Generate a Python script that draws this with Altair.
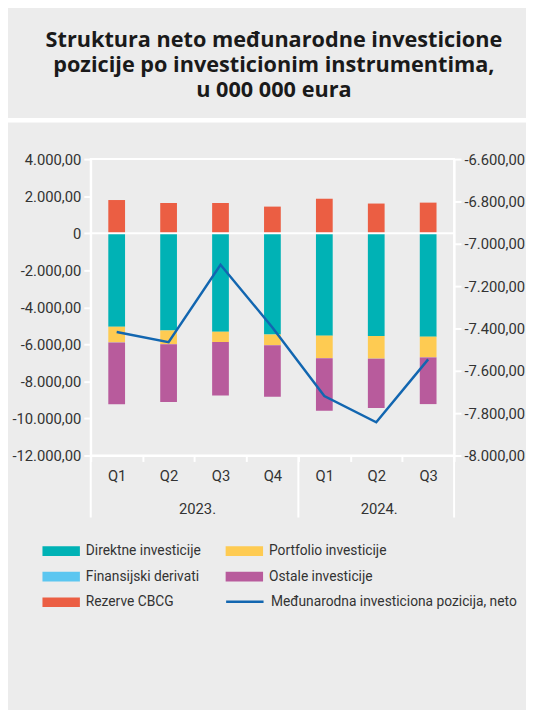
import altair as alt
import pandas as pd

periods = ["2023 Q1", "2023 Q2", "2023 Q3", "2023 Q4", "2024 Q1", "2024 Q2", "2024 Q3"]
direktne = [-5050, -5250, -5320, -5470, -5530, -5550, -5585]
portfolio = [-840, -740, -550, -570, -1210, -1220, -1115]
derivati = [-8, -6, -6, -5, -5, -6, -5]
ostale = [-3330, -3120, -2890, -2785, -2835, -2660, -2520]
rezerve = [1790, 1630, 1630, 1435, 1860, 1600, 1650]
neto = [-7417, -7465, -7099, -7395, -7719, -7843, -7546]

bar_names = [
    "Direktne investicije",
    "Portfolio investicije",
    "Finansijski derivati",
    "Ostale investicije",
    "Rezerve CBCG",
]
line_name = "Međunarodna investiciona pozicija, neto"
bar_colors = ["#00b2b5", "#fecb52", "#5bc6f0", "#b85b9c", "#eb5e43"]
line_color = "#1266b0"
# legend is filled column by column (3 rows): order entries so rows read as in the reference
legend_order = [0, 2, 4, 1, 3]
legend_names = [bar_names[i] for i in legend_order]
legend_colors = [bar_colors[i] for i in legend_order]

title_lines = ["Struktura neto međunarodne investicione",
               "pozicije po investicionim instrumentima,",
               "u 000 000 eura"]

left_ticks = list(range(-12000, 4001, 2000))
right_ticks = list(range(-8000, -6599, 200))

rows = []
for i, (name, vals) in enumerate(zip(bar_names, [direktne, portfolio, derivati, ostale, rezerve])):
    for p, v in zip(periods, vals):
        rows.append({"period": p, "series": name, "value": v, "ord": i})
df = pd.DataFrame(rows)
df_line = pd.DataFrame({"period": periods, "neto": neto, "name": [line_name] * len(periods)})

FONT = "Roboto"
FS = 15
LFS = 14
LBL = "#333333"
num_expr = ("datum.value === 0 ? '0' : replace(replace(replace(replace(format(datum.value, ',.2f'), ',', 'T'), '.', ','), 'T', '.'), '\u2212', '-')")

xscale = alt.Scale(domain=periods, paddingInner=0, paddingOuter=0)
xaxis = alt.Axis(title=None, labelExpr="split(datum.label, ' ')[1]", tickBand="extent",
                 labelAngle=0, domainColor="white", domainWidth=2, tickColor="white",
                 tickWidth=2, tickSize=6, labelPadding=7, labelFontSize=FS,
                 labelColor=LBL, labelFont=FONT, grid=False)
X = alt.X("period:N", scale=xscale, axis=xaxis)

bar_path = "M-1,-0.26L1,-0.26L1,0.26L-1,0.26Z"
LEG_X, LEG_Y, ROW = -49, 379, 25
bar_legend = alt.Legend(
    title=None, orient="none", legendX=LEG_X, legendY=LEG_Y, columns=2, columnPadding=25,
    rowPadding=0, symbolType=bar_path, symbolSize=1444, symbolStrokeWidth=0,
    symbolOpacity=1, labelFontSize=LFS, labelFont=FONT, labelColor=LBL, labelOffset=6,
    labelLimit=400,
)
line_legend = alt.Legend(
    title=None, orient="none", legendX=136, legendY=LEG_Y + 2 * ROW,
    symbolType="stroke", symbolSize=1444, symbolStrokeWidth=2.5,
    labelFontSize=LFS, labelFont=FONT, labelColor=LBL, labelOffset=6, labelLimit=400,
)

yaxis_common = dict(title=None, labelExpr=num_expr, domainColor="white", domainWidth=2,
                    tickColor="white", tickWidth=2, tickSize=7, labelPadding=3,
                    labelFontSize=FS, labelColor=LBL, labelFont=FONT, grid=False,
                    labelOverlap=False)
left_axis = alt.Axis(values=left_ticks, **yaxis_common)
left_scale = alt.Scale(domain=[-12000, 4000], nice=False, zero=False)

bars = alt.Chart(df).mark_bar(size=17).encode(
    x=X,
    y=alt.Y("value:Q", stack="zero", scale=left_scale, axis=left_axis),
    color=alt.Color("series:N", scale=alt.Scale(domain=legend_names, range=legend_colors),
                    legend=bar_legend),
    order=alt.Order("ord:Q"),
)

zero = alt.Chart(pd.DataFrame({"value": [0]})).mark_rule(color="white", strokeWidth=2).encode(
    y=alt.Y("value:Q", scale=left_scale, axis=left_axis))

left = alt.layer(bars, zero)

line = alt.Chart(df_line).mark_line(strokeWidth=2.5).encode(
    x=X,
    y=alt.Y("neto:Q", scale=alt.Scale(domain=[-8000, -6600], nice=False, zero=False),
            axis=alt.Axis(orient="right", values=right_ticks, **yaxis_common)),
    stroke=alt.Stroke("name:N", scale=alt.Scale(domain=[line_name], range=[line_color]),
                      legend=line_legend),
)

sep_start = alt.Chart(pd.DataFrame({"period": ["2023 Q1", "2024 Q1"]})).mark_rule(
    color="white", strokeWidth=2).encode(
    x=alt.X("period:N", scale=xscale, bandPosition=0, axis=xaxis),
    y=alt.value(301), y2=alt.value(364))
sep_end = alt.Chart(pd.DataFrame({"period": ["2024 Q3"]})).mark_rule(
    color="white", strokeWidth=2).encode(
    x=alt.X("period:N", scale=xscale, bandPosition=1, axis=xaxis),
    y=alt.value(301), y2=alt.value(364))

year_a = alt.Chart(pd.DataFrame({"period": ["2023 Q3"], "year": ["2023."]})).mark_text(
    fontSize=FS, font=FONT, color=LBL, baseline="middle", dx=3).encode(
    x=alt.X("period:N", scale=xscale, bandPosition=0, axis=xaxis),
    y=alt.value(355), text="year:N")
year_b = alt.Chart(pd.DataFrame({"period": ["2024 Q2"], "year": ["2024."]})).mark_text(
    fontSize=FS, font=FONT, color=LBL, baseline="middle", dx=3).encode(
    x=alt.X("period:N", scale=xscale, bandPosition=0.5, axis=xaxis),
    y=alt.value(355), text="year:N")

title = alt.Chart(pd.DataFrame({"t": ["\n".join(title_lines)]})).mark_text(
    fontSize=22, font="Open Sans", fontWeight="bold", color="#1a1a1a", align="center",
    baseline="alphabetic", lineBreak="\n", lineHeight=25.5).encode(
    x=alt.value(186), y=alt.value(-114), text="t:N")

gap = alt.Chart(pd.DataFrame({"a": [0]})).mark_rule(color="white", strokeWidth=4.5).encode(
    x=alt.value(-95), x2=alt.value(460), y=alt.value(-39.5))

chart = alt.layer(left, line, sep_start, sep_end, year_a, year_b, title, gap).resolve_scale(
    y="independent"
).properties(
    width=369, height=301,
    autosize=alt.AutoSizeParams(type="none"),
    padding={"left": 84, "top": 148, "right": 73, "bottom": 253},
).configure(background="#ececec").configure_view(stroke="white", strokeWidth=2)

chart.save("out.html", embed_options={"renderer": "svg", "actions": False})
